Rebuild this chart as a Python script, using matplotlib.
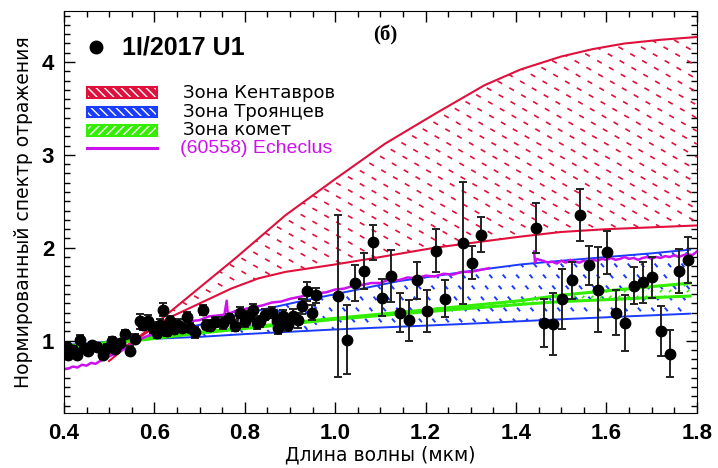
import matplotlib
matplotlib.use("Agg")
import matplotlib.pyplot as plt
from matplotlib.patches import Rectangle
import numpy as np

# 1I/2017 U1 reflectance points: wavelength, value, error
pt_x = [0.407, 0.409, 0.415, 0.420, 0.429, 0.435, 0.445, 0.453, 0.463, 0.473,
        0.486, 0.495, 0.506, 0.513, 0.525, 0.535, 0.546, 0.557, 0.568, 0.575,
        0.586, 0.597, 0.605, 0.612, 0.619, 0.627, 0.634, 0.643, 0.652, 0.662,
        0.672, 0.679, 0.690, 0.708, 0.715, 0.723, 0.735, 0.752, 0.765, 0.778,
        0.789, 0.800, 0.810, 0.818, 0.826, 0.834, 0.845, 0.860, 0.871, 0.873,
        0.885, 0.896, 0.907, 0.917, 0.927, 0.938, 0.949, 0.958,
        1.006, 1.026, 1.044, 1.064, 1.084, 1.104, 1.124, 1.143, 1.163, 1.181,
        1.203, 1.223, 1.243, 1.283, 1.303, 1.323, 1.444, 1.462, 1.482, 1.502,
        1.524, 1.542, 1.562, 1.581, 1.601, 1.621, 1.641, 1.661, 1.681, 1.701,
        1.721, 1.741, 1.761, 1.781]
pt_y = [0.93, 0.85, 0.88, 0.90, 0.85, 1.01, 0.92, 0.89, 0.95, 0.93,
        0.84, 0.92, 1.00, 0.91, 0.97, 1.07, 0.89, 1.02, 1.21, 1.17,
        1.21, 1.14, 1.08, 1.17, 1.33, 1.10, 1.21, 1.12, 1.17, 1.14,
        1.25, 1.14, 1.09, 1.33, 1.17, 1.16, 1.20, 1.19, 1.24, 1.16,
        1.30, 1.21, 1.27, 1.33, 1.19, 1.21, 1.28, 1.30, 1.21, 1.14,
        1.26, 1.17, 1.27, 1.22, 1.37, 1.53, 1.30, 1.49,
        1.48, 1.01, 1.62, 1.75, 2.06, 1.46, 1.70, 1.30, 1.22, 1.65,
        1.32, 1.97, 1.45, 2.05, 1.84, 2.14, 2.21, 1.19, 1.18, 1.45,
        1.65, 2.35, 1.81, 1.55, 1.95, 1.30, 1.19, 1.59, 1.63, 1.68,
        1.10, 0.86, 1.75, 1.87]
pt_err = [0.04, 0.04, 0.04, 0.04, 0.04, 0.05, 0.04, 0.04, 0.04, 0.04,
          0.04, 0.04, 0.04, 0.04, 0.04, 0.04, 0.05, 0.05, 0.08, 0.06,
          0.07, 0.06, 0.05, 0.06, 0.07, 0.05, 0.06, 0.05, 0.06, 0.05,
          0.06, 0.05, 0.06, 0.05, 0.05, 0.06, 0.05, 0.06, 0.05, 0.06,
          0.06, 0.06, 0.05, 0.06, 0.06, 0.06, 0.06, 0.06, 0.07, 0.07,
          0.07, 0.07, 0.07, 0.08, 0.08, 0.10, 0.08, 0.08,
          0.87, 0.37, 0.19, 0.19, 0.19, 0.20, 0.28, 0.21, 0.22, 0.20,
          0.23, 0.23, 0.20, 0.66, 0.18, 0.19, 0.27, 0.26, 0.33, 0.32,
          0.20, 0.28, 0.21, 0.46, 0.23, 0.24, 0.30, 0.20, 0.22, 0.22,
          0.27, 0.25, 0.24, 0.25]

# Centaur zone
cen_up_x = [0.50, 0.55, 0.60, 0.65, 0.70, 0.78, 0.89, 1.00, 1.11, 1.22, 1.33,
            1.41, 1.50, 1.57, 1.64, 1.72, 1.80]
cen_up_y = [0.78, 0.98, 1.17, 1.37, 1.57, 1.89, 2.35, 2.74, 3.12, 3.44, 3.75,
            3.92, 4.06, 4.14, 4.20, 4.24, 4.27]
cen_lo_x = [0.50, 0.55, 0.575, 0.63, 0.70, 0.77, 0.83, 0.89, 1.00, 1.10, 1.22,
            1.33, 1.41, 1.50, 1.60, 1.70, 1.80]
cen_lo_y = [0.84, 0.98, 1.06, 1.24, 1.40, 1.56, 1.67, 1.74, 1.82, 1.90, 2.00,
            2.07, 2.12, 2.17, 2.20, 2.22, 2.24]

# Trojan zone
tro_up_x = [0.40, 0.45, 0.50, 0.55, 0.60, 0.70, 0.78, 0.92, 1.06, 1.14, 1.30,
            1.41, 1.50, 1.60, 1.70, 1.785]
tro_up_y = [0.87, 0.91, 0.95, 1.00, 1.06, 1.17, 1.27, 1.42, 1.56, 1.64, 1.75,
            1.82, 1.86, 1.90, 1.94, 1.98]
tro_lo_x = [0.40, 0.45, 0.50, 0.55, 0.60, 0.70, 0.80, 1.00, 1.29, 1.50, 1.785]
tro_lo_y = [0.95, 0.97, 0.99, 1.00, 1.02, 1.04, 1.07, 1.12, 1.18, 1.23, 1.29]

# Comet zone
com_x = [0.40, 0.56, 0.70, 0.92, 1.00, 1.20, 1.41, 1.50, 1.785]
com_up_y = [0.93, 1.01, 1.09, 1.20, 1.24, 1.33, 1.43, 1.49, 1.62]
com_lo_y = [0.94, 1.00, 1.08, 1.19, 1.23, 1.31, 1.39, 1.42, 1.48]

# (60558) Echeclus spectrum, two pieces
ech1_x = [0.40, 0.41, 0.42, 0.43, 0.44, 0.45, 0.46, 0.47, 0.48, 0.49, 0.50, 0.52,
          0.54, 0.56, 0.58, 0.60, 0.62, 0.64, 0.66, 0.68, 0.70, 0.72, 0.74, 0.755,
          0.760, 0.762, 0.765, 0.78, 0.80, 0.82, 0.84, 0.86, 0.88, 0.90, 0.92, 0.94,
          0.96, 0.98, 1.00, 1.02, 1.04, 1.06, 1.08, 1.10, 1.12, 1.14, 1.16, 1.18,
          1.20, 1.22, 1.24, 1.26, 1.28, 1.30, 1.32, 1.34]
ech1_y = [0.69, 0.70, 0.72, 0.71, 0.74, 0.73, 0.76, 0.75, 0.78, 0.80, 0.83, 0.87,
          0.93, 0.99, 1.04, 1.08, 1.12, 1.13, 1.17, 1.21, 1.22, 1.26, 1.27, 1.28,
          1.43, 1.31, 1.29, 1.32, 1.34, 1.36, 1.38, 1.41, 1.42, 1.45, 1.47, 1.49,
          1.51, 1.52, 1.55, 1.56, 1.59, 1.60, 1.62, 1.62, 1.66, 1.65, 1.68, 1.67,
          1.70, 1.69, 1.72, 1.71, 1.74, 1.74, 1.76, 1.78]
ech2_x = [1.440, 1.442, 1.445, 1.46, 1.47, 1.48, 1.49, 1.50, 1.51, 1.52, 1.53,
          1.54, 1.55, 1.56, 1.57, 1.58, 1.59, 1.60, 1.61, 1.62, 1.63, 1.64, 1.65,
          1.66, 1.67, 1.68, 1.69, 1.70, 1.71, 1.72, 1.73, 1.74, 1.75, 1.76, 1.77,
          1.78, 1.79, 1.80]
ech2_y = [1.96, 1.84, 1.88, 1.86, 1.84, 1.85, 1.83, 1.86, 1.84, 1.87, 1.85,
          1.84, 1.86, 1.85, 1.87, 1.86, 1.88, 1.87, 1.89, 1.87, 1.88, 1.90, 1.88,
          1.89, 1.87, 1.89, 1.90, 1.88, 1.90, 1.89, 1.91, 1.90, 1.92, 1.90, 1.92,
          1.93, 1.92, 1.96]

RED = "#e0103c"
BLUE = "#1a3cff"
GREEN = "#33ee00"
MAG = "#cc11ee"

fig = plt.figure(figsize=(7.18, 4.68), dpi=100)
ax = fig.add_axes([0.089, 0.1175, 0.8816, 0.859])
W, H = 633.0, 402.0  # axes size in pixels


def zone(xu, yu, xl, yl, color, angle, step, dash, lw):
    poly = ax.fill(np.concatenate([xu, xl[::-1]]), np.concatenate([yu, yl[::-1]]),
                   facecolor="none", edgecolor="none")[0]
    k = np.tan(np.radians(angle)) * W / H
    for c in np.arange(-abs(k) - 0.1, 1 + abs(k) + 0.1, step / H):
        ln, = ax.plot([0, 1], [c, c + k], transform=ax.transAxes, color=color,
                      lw=lw, linestyle=(0, dash), solid_capstyle="butt")
        ln.set_clip_path(poly)


zone(cen_up_x, cen_up_y, cen_lo_x, cen_lo_y, RED, -30, 13, (3.2, 5.0), 1.2)
zone(tro_up_x, tro_up_y, tro_lo_x, tro_lo_y, BLUE, -50, 16, (2.4, 5.0), 1.4)
zone(com_x, com_up_y, com_x, com_lo_y, GREEN, 45, 9, (2.0, 3.0), 1.2)

ax.plot(cen_up_x, cen_up_y, color=RED, lw=1.5)
ax.plot(cen_lo_x, cen_lo_y, color=RED, lw=1.5)
ax.plot(tro_up_x, tro_up_y, color=BLUE, lw=1.4)
ax.plot(tro_lo_x, tro_lo_y, color=BLUE, lw=1.4)
ax.plot(com_x, com_up_y, color=GREEN, lw=2.2)
ax.plot(com_x, com_lo_y, color=GREEN, lw=2.2)
ax.plot(ech1_x, ech1_y, color=MAG, lw=1.8)
ax.plot(ech2_x, ech2_y, color=MAG, lw=1.8)

ax.errorbar(pt_x, pt_y, yerr=pt_err, fmt="o", color="black", ecolor="#222222",
            ms=7.5, elinewidth=1.4, capsize=3, capthick=1.4, zorder=5)

ax.set_xlim(0.4, 1.8)
ax.set_ylim(0.22, 4.55)
ax.set_xticks(np.arange(0.4, 1.81, 0.2))
ax.set_xticks(np.arange(0.4, 1.81, 0.05), minor=True)
ax.set_yticks([1, 2, 3, 4])
ax.set_yticks(np.arange(0.3, 4.55, 0.1), minor=True)
ax.set_xticklabels(["0.4", "0.6", "0.8", "1.0", "1.2", "1.4", "1.6", "1.8"])
ax.tick_params(which="both", direction="in", top=True, right=True, width=1)
ax.tick_params(which="major", length=8, pad=7)
ax.tick_params(which="minor", length=4)
for lab in ax.get_xticklabels() + ax.get_yticklabels():
    lab.set_family("Liberation Sans")
    lab.set_weight("bold")
    lab.set_fontsize(16)

ax.set_xlabel("Длина волны (мкм)", fontsize=13.5, family="DejaVu Sans", labelpad=1)
ax.set_ylabel("Нормированный спектр отражения", fontsize=13.5, family="DejaVu Sans",
              labelpad=6)

ax.text(0.507, 0.94, "(б)", transform=ax.transAxes, ha="center", va="center",
        fontsize=15, family="Liberation Serif", weight="bold")

# legend drawn by hand
ax.plot([0.05], [0.91], "o", color="black", ms=9, transform=ax.transAxes)
ax.text(0.092, 0.91, "1I/2017 U1", transform=ax.transAxes, va="center",
        fontsize=18, family="Liberation Sans", weight="bold")
leg = [("Зона Кентавров", RED, 0.797, "\\\\\\\\"),
       ("Зона Троянцев", BLUE, 0.749, "\\\\\\\\"),
       ("Зона комет", GREEN, 0.703, "////")]
for txt, col, yy, hat in leg:
    ax.add_patch(Rectangle((0.036, yy - 0.013), 0.111, 0.026, transform=ax.transAxes,
                           facecolor=col, edgecolor="white", hatch=hat, lw=0))
    ax.add_patch(Rectangle((0.036, yy - 0.013), 0.111, 0.026, transform=ax.transAxes,
                           facecolor="none", edgecolor=col, lw=1.5))
    ax.text(0.188, yy, txt, transform=ax.transAxes, va="center", fontsize=13,
            family="DejaVu Sans")
ax.plot([0.036, 0.147], [0.659, 0.659], color=MAG, lw=2.2, transform=ax.transAxes)
ax.text(0.183, 0.659, "(60558) Echeclus", transform=ax.transAxes, va="center",
        fontsize=14, family="Liberation Sans", color=MAG)

fig.savefig("out.png", dpi=100)
